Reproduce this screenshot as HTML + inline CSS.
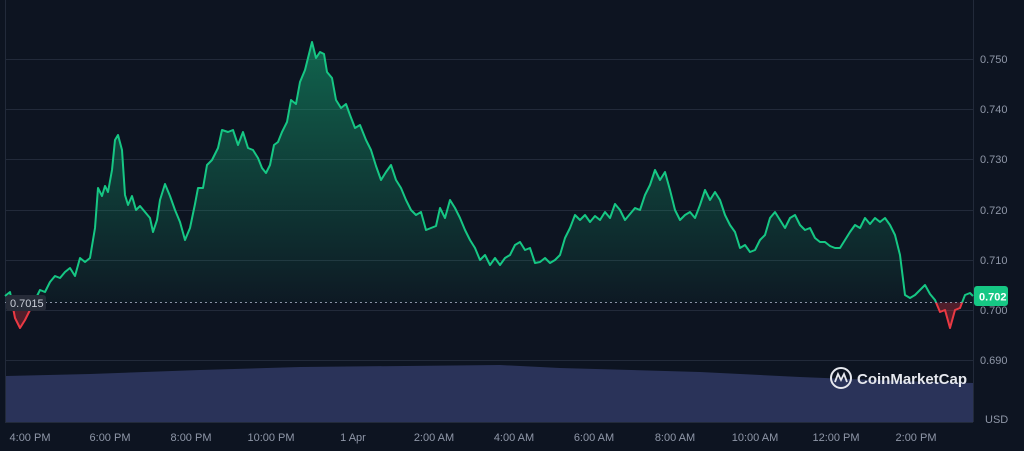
<!DOCTYPE html><html><head><style>
body{margin:0;background:#0d1421;width:1024px;height:446px;overflow:hidden;font-family:"Liberation Sans",sans-serif}
</style></head><body>
<svg width="1024" height="446" xmlns="http://www.w3.org/2000/svg">
<defs>
<linearGradient id="g" x1="0" y1="40" x2="0" y2="303" gradientUnits="userSpaceOnUse"><stop offset="0" stop-color="#16c784" stop-opacity="0.45"/><stop offset="1" stop-color="#16c784" stop-opacity="0.03"/></linearGradient>
<clipPath id="up"><rect x="0" y="0" width="974" height="302.5"/></clipPath>
<clipPath id="dn"><rect x="0" y="302.5" width="974" height="60"/></clipPath>
</defs>
<rect width="1024" height="446" fill="#0d1421"/>
<g stroke="#222a3a" stroke-width="1">
<line x1="5" y1="59.5" x2="973" y2="59.5"/><line x1="5" y1="109.5" x2="973" y2="109.5"/><line x1="5" y1="159.5" x2="973" y2="159.5"/><line x1="5" y1="210.5" x2="973" y2="210.5"/><line x1="5" y1="260.5" x2="973" y2="260.5"/><line x1="5" y1="310.5" x2="973" y2="310.5"/><line x1="5" y1="360.5" x2="973" y2="360.5"/>
<line x1="5.5" y1="0" x2="5.5" y2="422"/><line x1="973.5" y1="0" x2="973.5" y2="422"/><line x1="5" y1="422.5" x2="973" y2="422.5"/>
</g>
<path d="M6,376 L90,374 L200,370 L300,367 L500,365 L560,368 L700,372 L800,377 L900,381 L973,383 L973,422 L6,422Z" fill="#2a3359"/>
<g id="ln">
<polyline id="p" fill="none" stroke-width="2" stroke-linejoin="round" points="5,296 10,292 15,318 20,328 25,320 30,310 35,300 40,290 45,292 50,282 55,276 60,278 65,272 70,268 75,276 80,258 85,262 90,258 95,228 98,188 102,196 105,186 108,192 112,170 115,140 118,135 122,150 125,195 128,205 132,196 136,210 140,206 145,212 150,218 153,232 157,220 160,200 165,184 170,196 175,210 180,222 185,240 190,228 195,204 198,188 203,188 207,165 212,160 218,148 222,130 228,132 233,130 238,145 243,132 248,148 253,150 258,158 262,168 266,173 270,165 274,145 278,142 282,132 287,122 291,100 296,104 300,82 305,70 308,58 312,42 316,58 320,52 324,54 327,72 332,78 336,100 341,108 346,104 350,115 355,128 360,125 366,140 371,150 376,166 381,180 386,172 391,165 396,180 401,188 406,200 411,210 416,215 421,212 426,230 431,228 436,226 440,208 445,218 450,200 455,208 460,218 465,230 470,240 475,248 480,260 485,255 490,265 495,258 500,265 505,258 510,255 515,245 520,242 525,250 530,248 535,263 540,262 545,258 550,263 555,260 560,255 565,238 570,228 575,215 580,220 585,215 590,222 595,216 600,220 605,212 610,218 615,204 620,210 625,220 630,214 635,208 640,210 645,195 650,185 655,170 660,180 665,172 670,190 675,210 680,220 685,215 690,212 695,218 700,205 705,190 710,200 715,192 720,200 725,215 730,225 735,232 740,248 745,245 750,252 755,250 760,240 765,235 770,218 775,212 780,220 785,228 790,218 795,215 800,225 805,230 810,228 815,238 820,242 825,242 830,246 835,248 840,248 845,240 850,232 855,225 860,228 865,218 870,224 875,218 880,222 885,218 890,225 895,235 900,255 905,295 910,298 915,295 920,290 925,285 930,294 935,300 940,312 945,310 950,328 955,310 960,308 965,295 970,293 973,296"/>
</g>
<polygon clip-path="url(#up)" fill="url(#g)" points="5,302.5 5,296 10,292 15,318 20,328 30,310 35,300 40,290 45,292 50,282 55,276 60,278 65,272 70,268 75,276 80,258 85,262 90,258 95,228 98,188 102,196 105,186 108,192 112,170 115,140 118,135 122,150 125,195 128,205 132,196 136,210 140,206 145,212 150,218 153,232 157,220 160,200 165,184 170,196 175,210 180,222 185,240 190,228 195,204 198,188 203,188 207,165 212,160 218,148 222,130 228,132 233,130 238,145 243,132 248,148 253,150 258,158 262,168 266,173 270,165 274,145 278,142 282,132 287,122 291,100 296,104 300,82 305,70 308,58 312,42 316,58 320,52 324,54 327,72 332,78 336,100 341,108 346,104 350,115 355,128 360,125 366,140 371,150 376,166 381,180 386,172 391,165 396,180 401,188 406,200 411,210 416,215 421,212 426,230 431,228 436,226 440,208 445,218 450,200 455,208 460,218 465,230 470,240 475,248 480,260 485,255 490,265 495,258 500,265 505,258 510,255 515,245 520,242 525,250 530,248 535,263 540,262 545,258 550,263 555,260 560,255 565,238 570,228 575,215 580,220 585,215 590,222 595,216 600,220 605,212 610,218 615,204 620,210 625,220 630,214 635,208 640,210 645,195 650,185 655,170 660,180 665,172 670,190 675,210 680,220 685,215 690,212 695,218 700,205 705,190 710,200 715,192 720,200 725,215 730,225 735,232 740,248 745,245 750,252 755,250 760,240 765,235 770,218 775,212 780,220 785,228 790,218 795,215 800,225 805,230 810,228 815,238 820,242 825,242 830,246 835,248 840,248 845,240 850,232 855,225 860,228 865,218 870,224 875,218 880,222 885,218 890,225 895,235 900,255 905,295 910,298 915,295 920,290 925,285 930,294 935,300 940,312 945,310 950,328 955,310 960,308 965,295 970,293 973,296 973,302.5"/>
<polygon clip-path="url(#dn)" fill="#ea3943" fill-opacity="0.3" points="5,302.5 10,292 15,318 20,328 25,320 30,310 35,300 40,302.5 930,302.5 935,300 940,312 945,310 950,328 955,310 960,308 965,295 973,302.5"/>
<use href="#p" stroke="#16c784" clip-path="url(#up)"/>
<use href="#p" stroke="#ea3943" clip-path="url(#dn)"/>
<line x1="5" y1="302.5" x2="973" y2="302.5" stroke="#8a93a6" stroke-width="1" stroke-dasharray="2,3"/>
<rect x="6" y="295" width="40" height="16" rx="3" fill="#262b38"/>
<text x="10" y="307" font-size="11" fill="#c8ccd6">0.7015</text>
<rect x="974" y="286" width="34" height="20" rx="3" fill="#16c784"/>
<text x="979" y="300.5" font-size="11" font-weight="bold" fill="#fff">0.702</text>
<g font-size="11" fill="#8f97a8">
<text x="980" y="63">0.750</text><text x="980" y="113">0.740</text><text x="980" y="163">0.730</text><text x="980" y="214">0.720</text><text x="980" y="264">0.710</text><text x="980" y="314">0.700</text><text x="980" y="364">0.690</text><text x="985" y="423">USD</text>
</g>
<g font-size="11" fill="#8f97a8" text-anchor="middle">
<text x="30" y="441">4:00 PM</text><text x="110" y="441">6:00 PM</text><text x="191" y="441">8:00 PM</text><text x="271" y="441">10:00 PM</text><text x="353" y="441">1 Apr</text><text x="434" y="441">2:00 AM</text><text x="514" y="441">4:00 AM</text><text x="594" y="441">6:00 AM</text><text x="675" y="441">8:00 AM</text><text x="755" y="441">10:00 AM</text><text x="836" y="441">12:00 PM</text><text x="916" y="441">2:00 PM</text>
</g>
<circle cx="841" cy="378" r="10" fill="none" stroke="#e6e8ee" stroke-width="2"/>
<path d="M835,382 L838,374 L841,380 L844,374 L847,382" fill="none" stroke="#e6e8ee" stroke-width="1.8"/>
<text x="857" y="384" font-size="15" font-weight="bold" fill="#e6e8ee">CoinMarketCap</text>
</svg>
</body></html>
